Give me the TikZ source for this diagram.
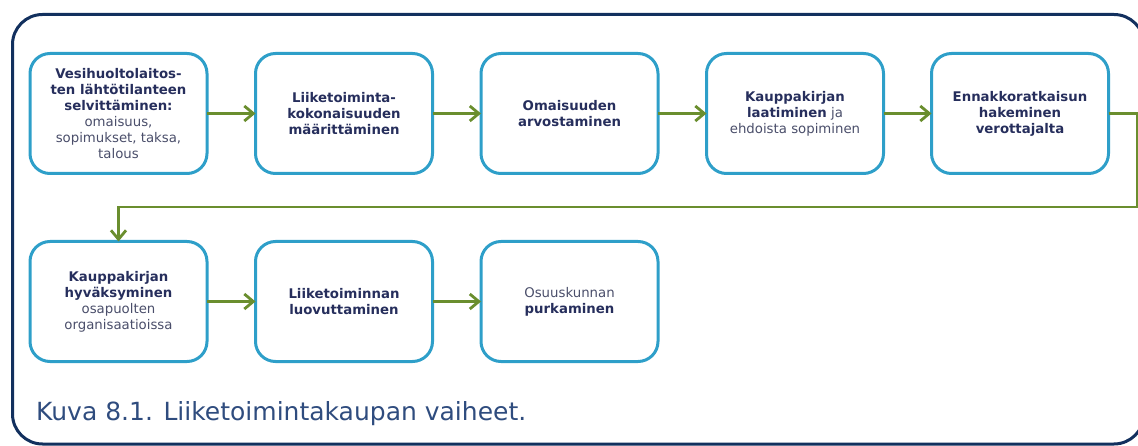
\documentclass[tikz,border=0pt]{standalone}
\usepackage{fontspec}
\setmainfont{DejaVu Sans}
\usetikzlibrary{arrows.meta}
\definecolor{framec}{HTML}{12305E}
\definecolor{boxc}{HTML}{2E9FC9}
\definecolor{arr}{HTML}{6A8E2E}
\definecolor{tb}{HTML}{262E5C}
\definecolor{tr}{HTML}{4A4E6A}
\definecolor{capc}{HTML}{2F4C7E}
\begin{document}
\begin{tikzpicture}[x=1pt,y=-1pt,
  stepbox/.style={draw=boxc, line width=3pt, rounded corners=20pt,
    minimum width=177pt, minimum height=120pt, inner sep=0pt, outer sep=0pt,
    align=center, font=\fontsize{13.3}{16}\selectfont, text=tb},
  flow/.style={draw=arr, line width=3pt,
    -{Straight Barb[length=9pt,width=15pt,line width=2.8pt]}}]
\useasboundingbox (0,0) rectangle (1138,446);
\clip (0,0) rectangle (1138,446);
\draw[draw=framec, line width=3pt, rounded corners=30pt] (12.5,14.5) rectangle (1144,444);

\node[stepbox] (n1) at (118.5,113.5) {\textbf{Vesihuoltolaitos-}\\\textbf{ten lähtötilanteen}\\\textbf{selvittäminen:}\\\textcolor{tr}{omaisuus,}\\\textcolor{tr}{sopimukset, taksa,}\\\textcolor{tr}{talous}};
\node[stepbox] (n2) at (344,113.5) {\textbf{Liiketoiminta-}\\\textbf{kokonaisuuden}\\\textbf{määrittäminen}};
\node[stepbox] (n3) at (569.5,113.5) {\textbf{Omaisuuden}\\\textbf{arvostaminen}};
\node[stepbox] (n4) at (795,113.5) {\textbf{Kauppakirjan}\\\textbf{laatiminen} \textcolor{tr}{ja}\\\textcolor{tr}{ehdoista sopiminen}};
\node[stepbox] (n5) at (1020,113.5) {\textbf{Ennakkoratkaisun}\\\textbf{hakeminen}\\\textbf{verottajalta}};

\node[stepbox] (n6) at (118.5,301.5) {\textbf{Kauppakirjan}\\\textbf{hyväksyminen}\\\textcolor{tr}{osapuolten}\\\textcolor{tr}{organisaatioissa}};
\node[stepbox] (n7) at (344,301.5) {\textbf{Liiketoiminnan}\\\textbf{luovuttaminen}};
\node[stepbox] (n8) at (569.5,301.5) {\textcolor{tr}{Osuuskunnan}\\\textbf{purkaminen}};

\draw[flow] (n1) -- (n2);
\draw[flow] (n2) -- (n3);
\draw[flow] (n3) -- (n4);
\draw[flow] (n4) -- (n5);
\draw[flow] (n6) -- (n7);
\draw[flow] (n7) -- (n8);

\coordinate (turn) at (1137,207);
\draw[flow, line width=2.6pt] (n5.east) -| (turn) -| (n6.north);

\node[anchor=base west, inner sep=0pt, text=capc, font=\fontsize{25}{29}\selectfont] (cap) at (36,420) {Kuva 8.1. Liiketoimintakaupan vaiheet.};
\end{tikzpicture}
\end{document}
